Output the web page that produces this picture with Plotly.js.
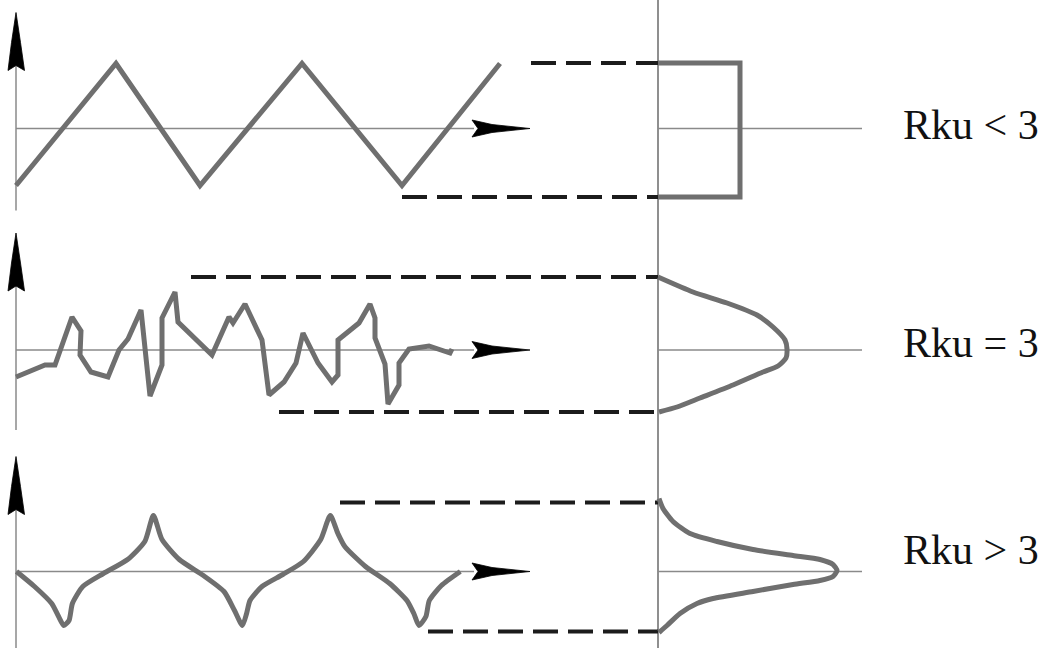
<!DOCTYPE html>
<html>
<head>
<meta charset="utf-8">
<script src="https://cdn.plot.ly/plotly-3.0.1.min.js"></script>
<style>html,body{margin:0;padding:0;background:#fff;}#chart{width:1046px;height:648px;}</style>
</head>
<body>
<div id="chart"></div>
<script>
// ---- Data (profile position t, profile height z; distribution density d) ----
// Panel 1: triangular profile, Rku < 3
const p1_t = [16, 116, 200, 302, 402, 500];
const p1_z = [-57, 65, -57, 65, -57, 65];
const d1_d = [0, 82, 82, 0];
const d1_z = [65.5, 65.5, -68.5, -68.5];

// Panel 2: random profile, Rku = 3
const p2_t = [16, 45, 55, 72, 81, 80, 91, 108, 119, 128, 141, 150, 162, 162, 175, 178, 212, 229, 233, 245, 262, 269, 284, 296, 303, 318, 332, 338, 338, 359, 370, 375, 375, 385, 388, 399, 399, 409, 429, 441, 450, 452];
const p2_z = [-27, -15, -15, 33, 19, -5, -22, -27, 0, 11, 40, -46, -15, 32, 58, 28, -5, 33, 27, 46, 10, -45, -32, -13, 17, -13, -32, -25, 10, 27, 46, 32, 12, -14, -54, -35, -13, 1, 4, 0, -3, 1];
const d2_d = [0, 35, 69, 99, 115, 127, 129, 128, 120, 105, 75, 42, 19, 1];
const d2_z = [73, 58, 47, 35, 23, 10, 1, -8, -16, -22, -35, -48, -57, -62];

// Panel 3: spiky profile, Rku > 3
const p3_t = [16.5, 34.5, 51.7, 58.6, 63.8, 69, 72.4, 82.8, 103.4, 127.6, 144.8, 153.4, 162, 179.3, 203.4, 224, 234.5, 242.4, 246.6, 250, 262, 282.8, 303.4, 320.7, 330.3, 337.9, 344.8, 365.5, 389.7, 406.9, 413.8, 419, 425.9, 429.3, 441.4, 460.3];
const p3_z = [0, -15, -32, -45, -54, -49, -32, -15, -2, 12, 30, 56, 32, 12, -4, -20, -39, -54, -42, -29, -15, -3, 10, 32, 56, 38, 25, 5, -12, -29, -42, -54, -45, -29, -14, 0];
const d3_d = [1, 5, 15, 32, 59, 95, 135, 162, 175, 179, 175, 162, 135, 95, 55, 39, 22, 9, 1];
const d3_z = [73, 63, 50, 38, 30, 22, 16, 12, 7, 1, -5, -9, -13, -20, -27, -32, -42, -54, -61];

const labels = ['Rku < 3', 'Rku = 3', 'Rku > 3'];

// ---- Layout geometry ----
const W = 1046, H = 648;
const baselines = [128.5, 350, 571.5];   // pixel row of each panel's zero line
const distX = 658;                        // x of distribution axis
const curveColor = '#6f6f6f';
const axisColor = '#8a8a8a';
const dashColor = '#1c1c1c';

function yr(i) { return i === 0 ? 'y' : 'y' + (i + 1); }

const panels = [
  {t: p1_t, z: p1_z, d: d1_d, dz: d1_z, top: 65.5, bot: -68.5, topStart: 531, botStart: 402, shape: 'linear', ax: [116, -82]},
  {t: p2_t, z: p2_z, d: d2_d, dz: d2_z, top: 73, bot: -62, topStart: 191, botStart: 279, shape: 'linear', ax: [117, -80]},
  {t: p3_t, z: p3_z, d: d3_d, dz: d3_z, top: 69, bot: -60, topStart: 340, botStart: 428, shape: 'spline', ax: [115, -77]}
];
const textZ = [4, 7, 22];

const traces = [];
const shapes = [];
const annotations = [];

panels.forEach((p, i) => {
  const ya = yr(i);
  // left vertical axis
  shapes.push({type: 'line', xref: 'x', yref: ya, x0: 16, x1: 16, y0: p.ax[0] - 10, y1: p.ax[1], line: {color: axisColor, width: 1.5}, layer: 'below'});
  // horizontal axis
  shapes.push({type: 'line', xref: 'x', yref: ya, x0: 16, x1: 474, y0: 0, y1: 0, line: {color: axisColor, width: 1.5}, layer: 'below'});
  shapes.push({type: 'line', xref: 'x', yref: ya, x0: distX, x1: 862, y0: 0, y1: 0, line: {color: axisColor, width: 1.5}, layer: 'below'});
  // up arrow
  const tip = p.ax[0], b = tip - 58, n = tip - 53;
  shapes.push({type: 'path', xref: 'x', yref: ya,
    path: `M 16,${tip} L 20.5,${tip-30} L 24.5,${b} L 16,${n} L 8,${b} L 11.5,${tip-30} Z`,
    fillcolor: '#000', line: {color: '#000', width: 0.8}});
  // right arrow
  shapes.push({type: 'path', xref: 'x', yref: ya,
    path: 'M 530,0 L 492,4 L 472,8.5 L 478,0 L 472,-8.5 L 492,-4 Z',
    fillcolor: '#000', line: {color: '#000', width: 0.8}});
  // dashed level lines
  traces.push({x: [p.topStart, distX], y: [p.top, p.top], yaxis: ya, mode: 'lines', line: {color: dashColor, width: 4, dash: '25px,10px'}, hoverinfo: 'skip'});
  traces.push({x: [p.botStart, distX], y: [p.bot, p.bot], yaxis: ya, mode: 'lines', line: {color: dashColor, width: 4, dash: '25px,10px'}, hoverinfo: 'skip'});
  // profile
  traces.push({x: p.t, y: p.z, yaxis: ya, mode: 'lines', line: {color: curveColor, width: 5, shape: p.shape, smoothing: 0.6}, hoverinfo: 'skip'});
  // distribution
  traces.push({x: p.d.map(v => distX + v), y: p.dz, yaxis: ya, mode: 'lines', line: {color: curveColor, width: 5, shape: i === 0 ? 'linear' : 'spline', smoothing: 0.6}, hoverinfo: 'skip'});
  // label
  annotations.push({x: 901, y: textZ[i], xref: 'x', yref: ya, text: labels[i], showarrow: false, xanchor: 'left', yanchor: 'middle',
    font: {family: 'Liberation Serif, Times New Roman, serif', size: 42, color: '#111'}});
});

// divider
shapes.push({type: 'line', xref: 'x', yref: 'paper', x0: distX, x1: distX, y0: 0, y1: 1, line: {color: '#6a6a6a', width: 1.5}, layer: 'below'});

const axBase = {visible: false, showgrid: false, zeroline: false, fixedrange: true};
const layout = {
  width: W, height: H,
  margin: {l: 0, r: 0, t: 0, b: 0},
  paper_bgcolor: '#fff', plot_bgcolor: '#fff',
  showlegend: false,
  xaxis: Object.assign({range: [0, W]}, axBase),
  yaxis: Object.assign({range: [-(H - baselines[0]), baselines[0]]}, axBase),
  yaxis2: Object.assign({range: [-(H - baselines[1]), baselines[1]], overlaying: 'y'}, axBase),
  yaxis3: Object.assign({range: [-(H - baselines[2]), baselines[2]], overlaying: 'y'}, axBase),
  shapes: shapes,
  annotations: annotations
};

Plotly.newPlot('chart', traces, layout, {staticPlot: true, displayModeBar: false});
</script>
</body>
</html>
